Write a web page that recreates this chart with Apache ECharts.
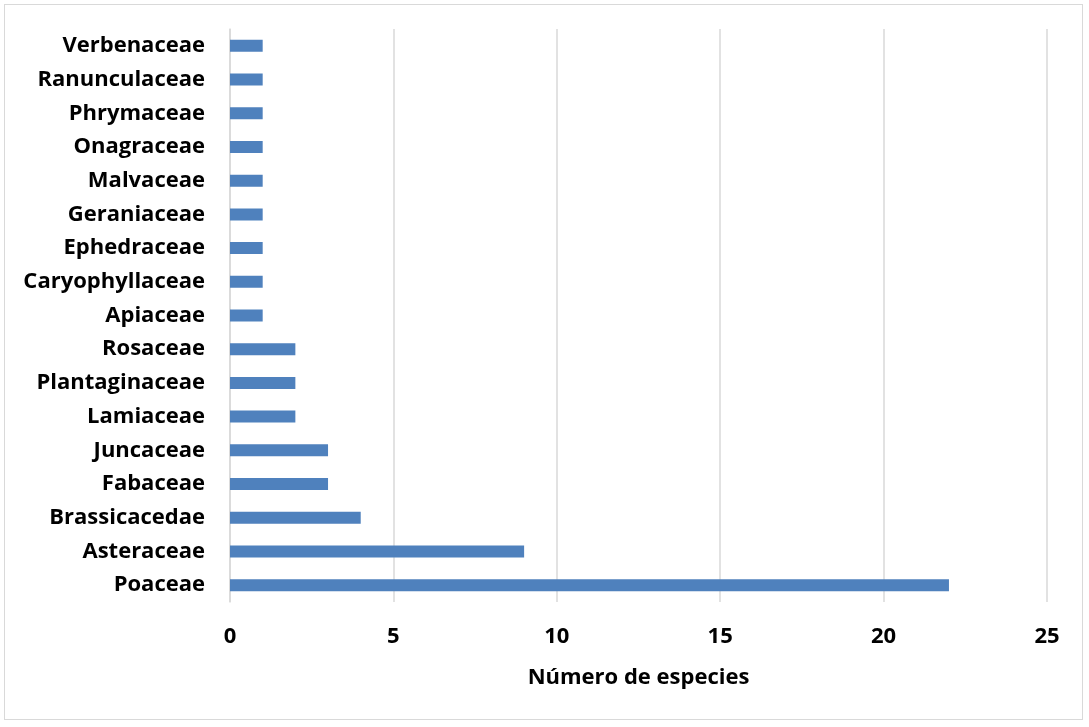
<!DOCTYPE html>
<html>
<head>
<meta charset="utf-8">
<script src="https://cdn.jsdelivr.net/npm/echarts@6/dist/echarts.min.js"></script>
<style>
html,body{margin:0;padding:0;background:#fff;}
#frame{position:absolute;left:4px;top:4px;width:1079px;height:716px;border:1px solid #d9d9d9;box-sizing:border-box;}
#chart{position:absolute;left:0;top:0;width:1089px;height:727px;}
</style>
</head>
<body>
<div id="frame"></div>
<div id="chart"></div>
<script>
const categories = ["Poaceae","Asteraceae","Brassicacedae","Fabaceae","Juncaceae","Lamiaceae","Plantaginaceae","Rosaceae","Apiaceae","Caryophyllaceae","Ephedraceae","Geraniaceae","Malvaceae","Onagraceae","Phrymaceae","Ranunculaceae","Verbenaceae"];
const values = [22,9,4,3,3,2,2,2,1,1,1,1,1,1,1,1,1];
const xTicks = [0,5,10,15,20,25];
const axisTitle = "Número de especies";

const chart = echarts.init(document.getElementById('chart'), null, {renderer:'canvas'});
const font = '"Open Sans", "Liberation Sans", sans-serif';
chart.setOption({
  animation:false,
  backgroundColor:'transparent',
  grid:{left:230,right:42,top:29,bottom:125,containLabel:false},
  xAxis:{
    type:'value',min:xTicks[0],max:xTicks[xTicks.length-1],interval:5,
    axisLine:{show:false},axisTick:{show:false},
    splitLine:{show:true,lineStyle:{color:'#d9d9d9',width:1.5}},
    axisLabel:{color:'#000',fontWeight:'bold',fontSize:22,fontFamily:font,margin:24},
    name:axisTitle,nameLocation:'middle',nameGap:65,
    nameTextStyle:{color:'#000',fontWeight:'bold',fontSize:22,fontFamily:font}
  },
  yAxis:{
    type:'category',data:categories,
    axisLine:{show:true,lineStyle:{color:'#d9d9d9',width:1.5}},
    axisTick:{show:false},
    axisLabel:{color:'#000',fontWeight:'bold',fontSize:22,fontFamily:font,margin:25}
  },
  series:[{
    type:'bar',data:values,barWidth:12,
    itemStyle:{color:'#4f81bd'}
  }]
});
</script>
</body>
</html>
